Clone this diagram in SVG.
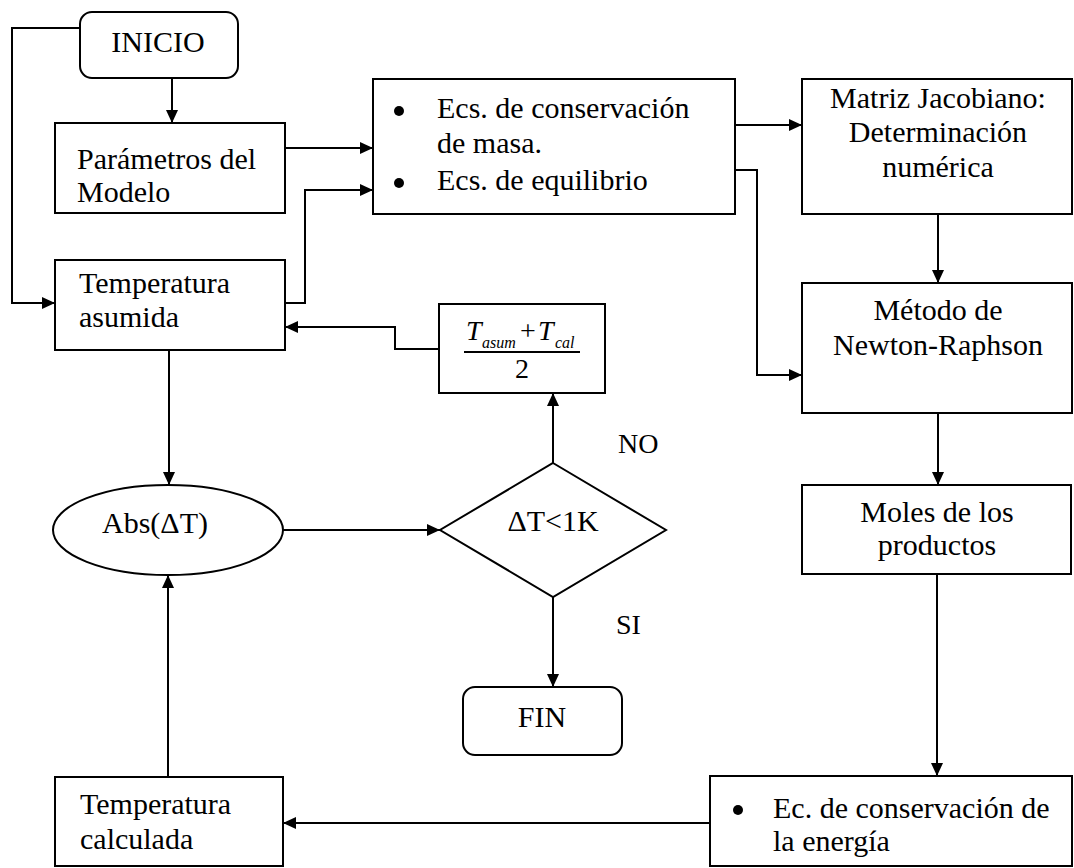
<svg xmlns="http://www.w3.org/2000/svg" width="1074" height="868" viewBox="0 0 1074 868">
<style>
  .box { fill: #fff; stroke: #000; stroke-width: 2; }
  .t { font-family: "Liberation Serif", "Times New Roman", serif; font-size: 30px; fill: #000; }
  .c { text-anchor: middle; }
  .it { font-style: italic; }
  .ln { fill: none; stroke: #000; stroke-width: 2; }
</style>
<defs>
  <marker id="ah" markerUnits="userSpaceOnUse" markerWidth="14" markerHeight="12" refX="13" refY="6" orient="auto">
    <path d="M0,0 L13,6 L0,12 z" fill="#000"/>
  </marker>
</defs>
<rect width="1074" height="868" fill="#fff"/>

<g id="connectors">
  <path class="ln" d="M172,78 V123" marker-end="url(#ah)"/>
  <path class="ln" d="M285,148 H373" marker-end="url(#ah)"/>
  <path class="ln" d="M285,303 H305 V190 H373" marker-end="url(#ah)"/>
  <path class="ln" d="M80,28 H12 V303 H55" marker-end="url(#ah)"/>
  <path class="ln" d="M735,125 H802" marker-end="url(#ah)"/>
  <path class="ln" d="M735,170 H757 V375 H802" marker-end="url(#ah)"/>
  <path class="ln" d="M938,214 V283" marker-end="url(#ah)"/>
  <path class="ln" d="M938,413 V485" marker-end="url(#ah)"/>
  <path class="ln" d="M937,574 V776" marker-end="url(#ah)"/>
  <path class="ln" d="M710,823 H283" marker-end="url(#ah)"/>
  <path class="ln" d="M168,777 V575" marker-end="url(#ah)"/>
  <path class="ln" d="M169,350 V485" marker-end="url(#ah)"/>
  <path class="ln" d="M283,530 H440" marker-end="url(#ah)"/>
  <path class="ln" d="M553,463 V393" marker-end="url(#ah)"/>
  <path class="ln" d="M439,349 H395 V327 H285" marker-end="url(#ah)"/>
  <path class="ln" d="M553,597 V687" marker-end="url(#ah)"/>
</g>

<g id="inicio">
  <rect class="box" x="80" y="12" width="158" height="66" rx="12"/>
  <text class="t c" x="158" y="52">INICIO</text>
</g>

<g id="parametros">
  <rect class="box" x="55" y="123" width="230" height="90"/>
  <text class="t" x="77" y="169">Parámetros del</text>
  <text class="t" x="77" y="202">Modelo</text>
</g>

<g id="temp-asumida">
  <rect class="box" x="55" y="260" width="230" height="90"/>
  <text class="t" x="79" y="293">Temperatura</text>
  <text class="t" x="79" y="327">asumida</text>
</g>

<g id="ecuaciones">
  <rect class="box" x="373" y="79" width="362" height="135"/>
  <circle cx="399" cy="111" r="5"/>
  <circle cx="399" cy="183" r="5"/>
  <text class="t" x="437" y="118">Ecs. de conservación</text>
  <text class="t" x="437" y="153">de masa.</text>
  <text class="t" x="437" y="190">Ecs. de equilibrio</text>
</g>

<g id="matriz">
  <rect class="box" x="802" y="79" width="270" height="135"/>
  <text class="t c" x="938" y="108">Matriz Jacobiano:</text>
  <text class="t c" x="938" y="142">Determinación</text>
  <text class="t c" x="938" y="177">numérica</text>
</g>

<g id="newton">
  <rect class="box" x="802" y="283" width="270" height="130"/>
  <text class="t c" x="938" y="320">Método de</text>
  <text class="t c" x="938" y="355">Newton-Raphson</text>
</g>

<g id="moles">
  <rect class="box" x="802" y="485" width="269" height="89"/>
  <text class="t c" x="937" y="522">Moles de los</text>
  <text class="t c" x="937" y="555">productos</text>
</g>

<g id="energia">
  <rect class="box" x="710" y="776" width="362" height="90"/>
  <circle cx="738" cy="810" r="5"/>
  <text class="t" x="773" y="818">Ec. de conservación de</text>
  <text class="t" x="773" y="851">la energía</text>
</g>

<g id="temp-calculada">
  <rect class="box" x="55" y="777" width="228" height="89"/>
  <text class="t" x="80" y="814">Temperatura</text>
  <text class="t" x="80" y="849">calculada</text>
</g>

<g id="abs">
  <ellipse class="box" cx="168" cy="530" rx="115" ry="45"/>
  <text class="t c" x="155" y="533">Abs(ΔT)</text>
</g>

<g id="decision">
  <polygon class="box" points="553,463 666,530 553,597 440,530"/>
  <text class="t c" x="553" y="531">ΔT&lt;1K</text>
  <text class="t" x="618" y="453" style="font-size:28px">NO</text>
  <text class="t" x="616" y="634" style="font-size:28px">SI</text>
</g>

<g id="promedio">
  <rect class="box" x="439" y="304" width="166" height="89"/>
  <text class="t it" x="466" y="340" style="font-size:28px">T</text>
  <text class="t it" x="482" y="348" style="font-size:16px">asum</text>
  <text class="t" x="520" y="340" style="font-size:28px">+</text>
  <text class="t it" x="538" y="340" style="font-size:28px">T</text>
  <text class="t it" x="555" y="348" style="font-size:16px">cal</text>
  <line x1="464" y1="352" x2="580" y2="352" stroke="#000" stroke-width="2"/>
  <text class="t c" x="522" y="378" style="font-size:28px">2</text>
</g>

<g id="fin">
  <rect class="box" x="463" y="687" width="159" height="68" rx="12"/>
  <text class="t c" x="542" y="727">FIN</text>
</g>
</svg>
